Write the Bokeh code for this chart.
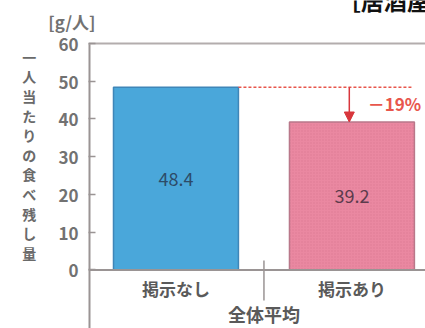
from bokeh.plotting import figure
from bokeh.models import Range1d, Span, Arrow, NormalHead, FixedTicker
from bokeh.core.properties import value
from bokeh.embed import file_html
from bokeh.resources import INLINE

# ---- data ----
categories = ["掲示なし", "掲示あり"]
values = [48.4, 39.2]
value_labels = ["48.4", "39.2"]
bar_colors = ["#4aa7da", "#ea88a1"]
bar_line_colors = ["#3f86b8", "#b9788a"]
value_label_colors = ["#2d4b68", "#5c3b4c"]
change_label = "－19%"
avg_label = "全体平均"
y_ticks = [0, 10, 20, 30, 40, 50, 60]
unit_label = "[g/人]"
y_title = "一人当たりの食べ残し量"
title_text = "［居酒屋］"

FONT = "Noto Sans CJK JP"
GRAY = "#9a9494"

Y_MIN, Y_MAX = -15.5, 71.39
X_MIN, X_MAX = -0.497, 1.418
UNIT_POS = 65.8

p = figure(width=425, height=328, output_backend="svg", toolbar_location=None,
           x_range=Range1d(X_MIN, X_MAX), y_range=Range1d(Y_MIN, Y_MAX),
           x_axis_location=None, min_border_left=88, min_border_top=0,
           min_border_right=0, min_border_bottom=0)
p.outline_line_color = None
p.xgrid.visible = False
p.ygrid.visible = False
p.background_fill_color = "white"

ax = p.yaxis[0]
ax.ticker = FixedTicker(ticks=y_ticks + [UNIT_POS], minor_ticks=y_ticks)
overrides = {t: f"{t}\u2003" for t in y_ticks}
overrides[UNIT_POS] = unit_label
ax.major_label_overrides = overrides
ax.major_tick_in = 0
ax.major_tick_out = 0
ax.major_tick_line_color = None
ax.minor_tick_in = 7
ax.minor_tick_out = 0
ax.minor_tick_line_color = GRAY
ax.minor_tick_line_width = 1.5
ax.axis_line_color = None
ax.major_label_text_font = FONT
ax.major_label_text_font_size = "17px"
ax.major_label_text_font_style = "bold"
ax.major_label_text_color = "#727272"
ax.major_label_standoff = -7
# vertical (tategaki) axis title; the trailing blank line lifts it to the source position
ax.axis_label = "\n".join(y_title) + "\n\u3000"
ax.axis_label_orientation = "horizontal"
ax.axis_label_standoff = 9
ax.axis_label_text_font = FONT
ax.axis_label_text_font_size = "14px"
ax.axis_label_text_font_style = "bold"
ax.axis_label_text_color = "#6a6a6a"
ax.axis_label_text_line_height = 0.98

# axis line, frame lines
p.segment(x0=[X_MIN], y0=[Y_MIN], x1=[X_MIN], y1=[y_ticks[-1]], line_color=GRAY, line_width=4)
p.segment(x0=[X_MIN], y0=[y_ticks[-1]], x1=[X_MAX], y1=[y_ticks[-1]], line_color="#b3adad", line_width=2)
p.add_layout(Span(location=0, dimension="width", line_color=GRAY, line_width=2))

xs = list(range(len(categories)))
# blue bar
p.vbar(x=xs[0:1], top=values[0:1], bottom=0, width=0.71,
       fill_color=bar_colors[0], line_color=bar_line_colors[0], line_width=1.5)
# pink bar with dotted texture
p.vbar(x=xs[1:2], top=values[1:2], bottom=0, width=0.71,
       fill_color=bar_colors[1], line_color=bar_line_colors[1], line_width=1.5,
       hatch_pattern="dot", hatch_color="#c9607c", hatch_alpha=0.35, hatch_scale=3)

# value labels
p.text(x=xs, y=[v / 2 for v in values], text=value_labels, text_color=value_label_colors,
       text_align="center", text_baseline="middle", text_font=value(FONT),
       text_font_size="18px")

# category labels
p.text(x=xs, y=[-4.9] * len(xs), text=categories, text_color="#5a5a5a",
       text_align="center", text_baseline="middle", text_font=value(FONT),
       text_font_size="17px", text_font_style="bold")

# average marker
p.segment(x0=[0.5], y0=[2.5], x1=[0.5], y1=[-8.1], line_color=GRAY, line_width=1.5)
p.text(x=[0.5], y=[-11.6], text=[avg_label], text_color="#5a5a5a",
       text_align="center", text_baseline="middle", text_font=value(FONT),
       text_font_size="18px", text_font_style="bold")

# reference dashed line and arrow
RED = "#e8564c"
p.segment(x0=[0.355], y0=[values[0]], x1=[1.344], y1=[values[0]],
          line_color=RED, line_width=1.5, line_dash="3 2")
p.add_layout(Arrow(end=NormalHead(size=10, fill_color="#d8363c", line_color="#d8363c"),
                   x_start=0.985, y_start=values[0], x_end=0.985, y_end=values[1],
                   line_color="#d8363c", line_width=1.5))
p.text(x=[1.09], y=[44.1], text=[change_label], text_color=RED,
       text_align="left", text_baseline="middle", text_font=value(FONT),
       text_font_size="17px", text_font_style="bold")

# page title (cut off at the top edge, as in the source image)
p.text(x=[0.92], y=[71.4], text=[title_text], text_color="#111111",
       text_align="left", text_baseline="alphabetic", text_font=value(FONT),
       text_font_size="23px", text_font_style="bold")

open("out.html", "w").write(file_html(p, INLINE))
